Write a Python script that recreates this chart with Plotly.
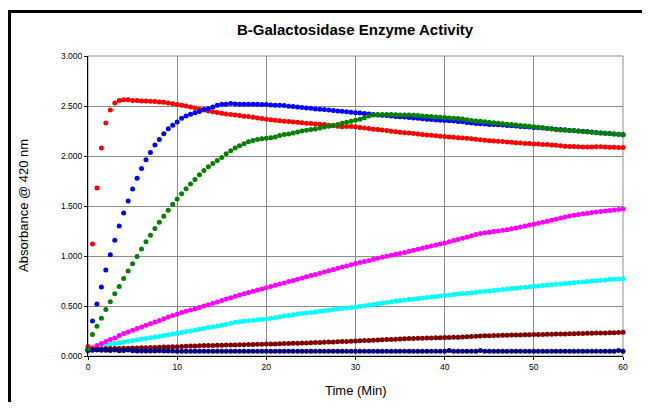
import plotly.graph_objects as go

# Sampling times (min), every 0.5 min from 0 to 60
time_min = [i * 0.5 for i in range(121)]

red = [
    0.095, 1.120, 1.680, 2.080, 2.330, 2.460, 2.530, 2.555, 2.562, 2.562,
    2.555, 2.555, 2.550, 2.550, 2.548, 2.545, 2.540, 2.538, 2.530, 2.522,
    2.515, 2.508, 2.500, 2.490, 2.480, 2.468, 2.460, 2.450, 2.442, 2.434,
    2.428, 2.420, 2.415, 2.410, 2.404, 2.398, 2.394, 2.388, 2.381, 2.375,
    2.368, 2.363, 2.358, 2.352, 2.348, 2.344, 2.340, 2.337, 2.332, 2.328,
    2.325, 2.321, 2.318, 2.315, 2.308, 2.302, 2.298, 2.292, 2.294, 2.295,
    2.292, 2.285, 2.280, 2.274, 2.268, 2.265, 2.259, 2.254, 2.248, 2.242,
    2.238, 2.233, 2.229, 2.225, 2.220, 2.216, 2.211, 2.207, 2.202, 2.198,
    2.194, 2.190, 2.187, 2.183, 2.180, 2.177, 2.173, 2.168, 2.162, 2.157,
    2.153, 2.150, 2.147, 2.145, 2.141, 2.137, 2.133, 2.130, 2.126, 2.124,
    2.121, 2.119, 2.116, 2.114, 2.111, 2.108, 2.103, 2.098, 2.095, 2.094,
    2.092, 2.090, 2.089, 2.090, 2.092, 2.092, 2.090, 2.088, 2.087, 2.086,
    2.086,
]

blue = [
    0.065, 0.351, 0.520, 0.690, 0.860, 1.012, 1.158, 1.300, 1.430, 1.550,
    1.670, 1.778, 1.876, 1.962, 2.036, 2.109, 2.165, 2.222, 2.272, 2.308,
    2.341, 2.378, 2.400, 2.418, 2.432, 2.445, 2.465, 2.472, 2.490, 2.508,
    2.517, 2.517, 2.525, 2.520, 2.518, 2.518, 2.518, 2.518, 2.517, 2.514,
    2.514, 2.511, 2.508, 2.508, 2.504, 2.498, 2.495, 2.491, 2.484, 2.481,
    2.478, 2.471, 2.468, 2.465, 2.460, 2.455, 2.450, 2.448, 2.442, 2.437,
    2.432, 2.429, 2.426, 2.421, 2.416, 2.410, 2.407, 2.404, 2.400, 2.396,
    2.392, 2.389, 2.385, 2.381, 2.377, 2.373, 2.368, 2.364, 2.361, 2.358,
    2.356, 2.353, 2.350, 2.346, 2.342, 2.336, 2.330, 2.326, 2.322, 2.319,
    2.316, 2.314, 2.312, 2.310, 2.306, 2.302, 2.299, 2.296, 2.293, 2.290,
    2.286, 2.283, 2.280, 2.276, 2.272, 2.268, 2.265, 2.262, 2.258, 2.255,
    2.251, 2.248, 2.244, 2.240, 2.236, 2.231, 2.227, 2.224, 2.221, 2.218,
    2.215,
]

green = [
    0.070, 0.214, 0.297, 0.377, 0.464, 0.543, 0.623, 0.696, 0.776, 0.849,
    0.922, 0.995, 1.069, 1.142, 1.208, 1.274, 1.338, 1.398, 1.458, 1.517,
    1.570, 1.623, 1.673, 1.720, 1.765, 1.812, 1.856, 1.892, 1.926, 1.956,
    1.986, 2.022, 2.052, 2.079, 2.102, 2.122, 2.142, 2.155, 2.165, 2.172,
    2.178, 2.182, 2.191, 2.205, 2.215, 2.221, 2.231, 2.241, 2.251, 2.258,
    2.265, 2.271, 2.281, 2.291, 2.298, 2.308, 2.316, 2.328, 2.338, 2.347,
    2.357, 2.368, 2.383, 2.400, 2.410, 2.414, 2.415, 2.415, 2.415, 2.412,
    2.411, 2.411, 2.409, 2.407, 2.404, 2.401, 2.398, 2.394, 2.391, 2.388,
    2.385, 2.381, 2.378, 2.374, 2.371, 2.362, 2.356, 2.350, 2.347, 2.342,
    2.337, 2.332, 2.327, 2.322, 2.318, 2.314, 2.309, 2.305, 2.302, 2.298,
    2.292, 2.287, 2.282, 2.276, 2.270, 2.265, 2.261, 2.258, 2.255, 2.252,
    2.249, 2.245, 2.241, 2.237, 2.233, 2.231, 2.228, 2.225, 2.221, 2.217,
    2.211,
]

magenta = [
    0.055, 0.082, 0.105, 0.125, 0.145, 0.165, 0.181, 0.204, 0.224, 0.241,
    0.257, 0.274, 0.290, 0.307, 0.323, 0.340, 0.356, 0.373, 0.390, 0.405,
    0.421, 0.434, 0.447, 0.460, 0.472, 0.485, 0.499, 0.513, 0.527, 0.541,
    0.555, 0.569, 0.583, 0.597, 0.610, 0.623, 0.635, 0.648, 0.660, 0.671,
    0.683, 0.695, 0.707, 0.719, 0.731, 0.744, 0.756, 0.768, 0.780, 0.792,
    0.804, 0.816, 0.828, 0.840, 0.852, 0.865, 0.877, 0.889, 0.901, 0.913,
    0.925, 0.935, 0.946, 0.956, 0.967, 0.977, 0.988, 0.998, 1.008, 1.018,
    1.025, 1.036, 1.047, 1.057, 1.068, 1.078, 1.089, 1.099, 1.110, 1.120,
    1.131, 1.142, 1.154, 1.166, 1.178, 1.190, 1.202, 1.214, 1.225, 1.232,
    1.238, 1.245, 1.251, 1.257, 1.263, 1.272, 1.281, 1.290, 1.299, 1.309,
    1.318, 1.328, 1.338, 1.348, 1.358, 1.368, 1.379, 1.390, 1.399, 1.407,
    1.415, 1.422, 1.428, 1.434, 1.440, 1.445, 1.450, 1.455, 1.461, 1.466,
    1.471,
]

cyan = [
    0.052, 0.072, 0.088, 0.103, 0.111, 0.118, 0.126, 0.133, 0.140, 0.147,
    0.155, 0.162, 0.169, 0.176, 0.183, 0.190, 0.198, 0.205, 0.212, 0.220,
    0.227, 0.235, 0.243, 0.251, 0.259, 0.268, 0.276, 0.284, 0.292, 0.300,
    0.308, 0.318, 0.328, 0.337, 0.343, 0.348, 0.352, 0.358, 0.363, 0.367,
    0.371, 0.378, 0.385, 0.392, 0.399, 0.406, 0.413, 0.419, 0.425, 0.430,
    0.436, 0.441, 0.447, 0.452, 0.458, 0.464, 0.469, 0.474, 0.479, 0.485,
    0.490, 0.497, 0.503, 0.510, 0.516, 0.523, 0.529, 0.536, 0.542, 0.549,
    0.555, 0.560, 0.565, 0.570, 0.575, 0.580, 0.585, 0.590, 0.595, 0.600,
    0.605, 0.610, 0.614, 0.619, 0.624, 0.628, 0.633, 0.638, 0.643, 0.647,
    0.651, 0.656, 0.660, 0.665, 0.669, 0.674, 0.678, 0.683, 0.687, 0.692,
    0.697, 0.701, 0.705, 0.709, 0.713, 0.717, 0.721, 0.725, 0.729, 0.733,
    0.737, 0.741, 0.745, 0.749, 0.753, 0.757, 0.761, 0.764, 0.767, 0.770,
    0.773,
]

dark_red = [
    0.066, 0.068, 0.070, 0.071, 0.072, 0.074, 0.075, 0.076, 0.077, 0.078,
    0.080, 0.081, 0.082, 0.083, 0.085, 0.086, 0.088, 0.089, 0.090, 0.092,
    0.093, 0.095, 0.097, 0.099, 0.101, 0.103, 0.104, 0.105, 0.106, 0.107,
    0.108, 0.109, 0.110, 0.111, 0.112, 0.113, 0.115, 0.116, 0.117, 0.118,
    0.119, 0.120, 0.121, 0.123, 0.124, 0.125, 0.127, 0.128, 0.130, 0.131,
    0.133, 0.134, 0.136, 0.138, 0.139, 0.141, 0.143, 0.145, 0.146, 0.148,
    0.150, 0.152, 0.154, 0.156, 0.158, 0.160, 0.162, 0.164, 0.166, 0.168,
    0.170, 0.172, 0.174, 0.176, 0.177, 0.178, 0.179, 0.180, 0.182, 0.183,
    0.185, 0.186, 0.187, 0.188, 0.190, 0.192, 0.195, 0.198, 0.200, 0.202,
    0.203, 0.204, 0.205, 0.207, 0.208, 0.209, 0.210, 0.211, 0.212, 0.213,
    0.214, 0.215, 0.216, 0.217, 0.218, 0.219, 0.220, 0.221, 0.222, 0.223,
    0.224, 0.225, 0.227, 0.228, 0.229, 0.230, 0.231, 0.232, 0.233, 0.234,
    0.238,
]

navy = [
    0.058, 0.058, 0.060, 0.058, 0.058, 0.055, 0.060, 0.052, 0.056, 0.060,
    0.052, 0.050, 0.050, 0.050, 0.050, 0.050, 0.052, 0.050, 0.050, 0.050,
    0.048, 0.048, 0.048, 0.048, 0.048, 0.048, 0.048, 0.048, 0.048, 0.048,
    0.048, 0.048, 0.048, 0.048, 0.048, 0.048, 0.048, 0.048, 0.048, 0.048,
    0.048, 0.048, 0.048, 0.048, 0.048, 0.048, 0.048, 0.048, 0.048, 0.048,
    0.048, 0.048, 0.048, 0.048, 0.048, 0.048, 0.048, 0.048, 0.048, 0.048,
    0.048, 0.048, 0.048, 0.048, 0.048, 0.048, 0.048, 0.048, 0.048, 0.048,
    0.048, 0.048, 0.048, 0.048, 0.048, 0.048, 0.048, 0.048, 0.048, 0.048,
    0.048, 0.056, 0.048, 0.048, 0.048, 0.048, 0.048, 0.048, 0.055, 0.048,
    0.048, 0.048, 0.048, 0.048, 0.048, 0.048, 0.048, 0.048, 0.048, 0.048,
    0.048, 0.048, 0.048, 0.048, 0.048, 0.048, 0.048, 0.048, 0.048, 0.048,
    0.048, 0.048, 0.048, 0.048, 0.048, 0.048, 0.048, 0.048, 0.048, 0.055,
    0.048,
]

series = [
    ("Cyan", cyan, "#00FFFF"),
    ("Magenta", magenta, "#FF00FF"),
    ("Dark red", dark_red, "#800000"),
    ("Navy", navy, "#000080"),
    ("Red", red, "#FF0000"),
    ("Blue", blue, "#0000FF"),
    ("Green", green, "#008000"),
]

x_ticks = [0, 10, 20, 30, 40, 50, 60]
y_ticks = [0.0, 0.5, 1.0, 1.5, 2.0, 2.5, 3.0]

fig = go.Figure()
for name, vals, col in series:
    fig.add_trace(go.Scatter(
        x=time_min, y=vals, mode="markers", name=name,
        marker=dict(color=col, size=5, line=dict(width=0)),
        cliponaxis=False, showlegend=False,
    ))

# The page body has an 8px margin: lay the figure out 8px up/left and keep it
# inside the window so no scrollbars appear.
OFF = 8
W, H = 634, 394
L, R, T, B = 88 - OFF, 623 - OFF, 56 - OFF, 356 - OFF
pw, ph = R - L, B - T

def px(xp):
    return (xp - OFF - L) / pw

def py(yp):
    return (B - (yp - OFF)) / ph

font = "Arial, Liberation Sans, Helvetica, sans-serif"

fig.update_layout(
    width=W, height=H,
    margin=dict(l=L, r=W - R, t=T, b=H - B, pad=0),
    paper_bgcolor="white", plot_bgcolor="white",
    font=dict(family=font, color="black"),
    xaxis=dict(
        range=[0, 60], tickvals=x_ticks, ticktext=[str(v) for v in x_ticks],
        showgrid=True, gridcolor="#8c8c8c", gridwidth=1,
        showline=True, linecolor="black", linewidth=1,
        ticks="outside", ticklen=3, tickcolor="black",
        tickfont=dict(size=8.5, family=font, color="black"),
        zeroline=False, fixedrange=True,
    ),
    yaxis=dict(
        range=[0, 3], tickvals=y_ticks, ticktext=[f"{v:.3f}" for v in y_ticks],
        showgrid=True, gridcolor="#8c8c8c", gridwidth=1,
        showline=True, linecolor="black", linewidth=1,
        ticks="outside", ticklen=3, tickcolor="black",
        tickfont=dict(size=8.5, family=font, color="black"),
        zeroline=False, fixedrange=True,
    ),
    shapes=[
        dict(type="rect", xref="paper", yref="paper", x0=0, x1=1, y0=0, y1=1,
             line=dict(color="#8c8c8c", width=1), layer="below"),
        dict(type="line", xref="paper", yref="paper",
             x0=px(9.3), x1=px(9.3), y0=py(10), y1=py(420),
             line=dict(color="black", width=3.5)),
        dict(type="line", xref="paper", yref="paper",
             x0=px(7.5), x1=px(660), y0=py(11.5), y1=py(11.5),
             line=dict(color="black", width=3)),
    ],
    annotations=[
        dict(text="<b>B-Galactosidase Enzyme Activity</b>", xref="paper", yref="paper",
             x=px(355), y=py(29.5), xanchor="center", yanchor="middle",
             showarrow=False, font=dict(size=15, family=font, color="black")),
        dict(text="Time (Min)", xref="paper", yref="paper",
             x=px(355.5), y=py(390), xanchor="center", yanchor="middle",
             showarrow=False, font=dict(size=13, family=font, color="black")),
        dict(text="Absorbance @ 420 nm", xref="paper", yref="paper",
             x=px(23), y=py(206), xanchor="center", yanchor="middle", textangle=-90,
             showarrow=False, font=dict(size=13, family=font, color="black")),
    ],
)

fig.write_html("out.html")
